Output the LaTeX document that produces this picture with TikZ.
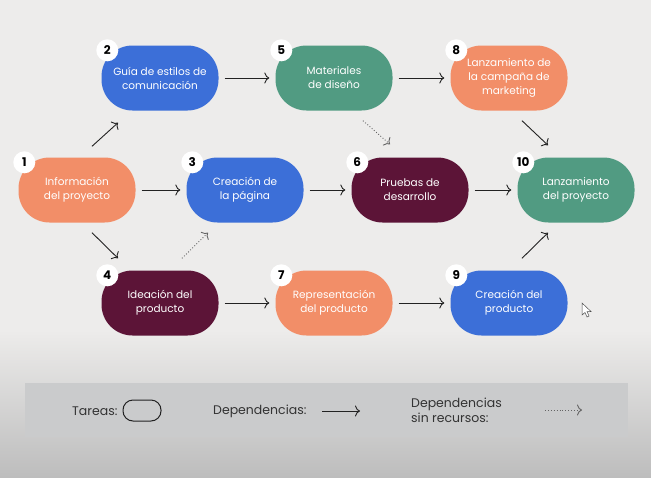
\documentclass[tikz,border=0pt]{standalone}
\usepackage{fontspec}
\setmainfont{Poppins}
\usetikzlibrary{arrows.meta,calc}
\definecolor{corange}{HTML}{F28E68}
\definecolor{cblue}{HTML}{3C6FD8}
\definecolor{cgreen}{HTML}{519B82}
\definecolor{cmaroon}{HTML}{5C1437}
\definecolor{bgtop}{HTML}{EDECEB}
\definecolor{bgbot}{HTML}{BDBDBD}
\definecolor{legbox}{HTML}{CACBCC}
\definecolor{ink}{HTML}{222222}
\definecolor{legink}{HTML}{333333}
\begin{document}
\begin{tikzpicture}[x=1pt,y=-1pt,
  task/.style={rectangle, rounded corners=31pt, minimum width=117pt, minimum height=65pt,
    text=white, align=center, inner sep=0pt, font=\fontsize{10.5}{14}\selectfont},
  badge/.style={circle, fill=white, minimum size=22pt, inner sep=0pt,
    font=\fontsize{12}{12}\selectfont\bfseries, text=black},
  tip/.tip={Computer Modern Rightarrow[length=5pt,width=11pt,line width=0.9pt]},
  dep/.style={draw=ink, line width=0.9pt, -tip},
  nores/.style={draw=ink!70, line width=0.9pt, dotted, -{Computer Modern Rightarrow[length=5pt,width=11pt,line width=0.9pt,sep=0pt]}},
  legtext/.style={text=legink, font=\fontsize{12.5}{15}\selectfont, align=left, inner sep=0pt},
  gap/.style={shorten <=6pt, shorten >=6pt}
]
\useasboundingbox (0,0) rectangle (651,477);
% background
\fill[bgtop] (0,0) rectangle (651,477);
\shade[top color=bgtop, bottom color=bgbot] (0,330) rectangle (651,477);
% legend box
\fill[legbox] (25,383) rectangle (628,437);

% tasks
\node[task, fill=corange] (n1) at (77,190) {Información\\del proyecto};
\node[task, fill=cblue] (n2) at (160,78) {Guía de estilos de\\comunicación};
\node[task, fill=cgreen] (n5) at (334,78) {Materiales\\de diseño};
\node[task, fill=corange] (n8) at (509,78) {Lanzamiento de\\la campaña de\\marketing};
\node[task, fill=cblue] (n3) at (245,190) {Creación de\\la página};
\node[task, fill=cmaroon] (n6) at (410,190) {Pruebas de\\desarrollo};
\node[task, fill=cgreen] (n10) at (576,190) {Lanzamiento\\del proyecto};
\node[task, fill=cmaroon] (n4) at (160,303) {Ideación del\\producto};
\node[task, fill=corange] (n7) at (334,303) {Representación\\del producto};
\node[task, fill=cblue] (n9) at (509,303) {Creación del\\producto};

% badges
\foreach \n/\t in {n1/1,n2/2,n3/3,n4/4,n5/5,n6/6,n7/7,n8/8,n9/9,n10/10}
  \node[badge] (b\t) at ($(\n.north west)+(6,5)$) {\t};

% dependencies
\draw[dep, gap] (n2) -- (n5);
\draw[dep, gap] (n5) -- (n8);
\draw[dep, gap] (n1) -- (n3);
\draw[dep, gap] (n3) -- (n6);
\draw[dep, gap] (n6) -- (n10);
\draw[dep, gap] (n4) -- (n7);
\draw[dep, gap] (n7) -- (n9);
\draw[dep] ($(n1.north)+(15,-11)$) -- ($(n2.south)+(-42,12)$);
\draw[dep] ($(n1.south)+(15,10)$) -- ($(n4.north)+(-42,-12)$);
\draw[dep] ($(n8.south)+(13,10)$) -- ($(n10.north)+(-28,-12)$);
\draw[dep] ($(n9.north)+(13,-12)$) -- ($(n10.south)+(-28,10)$);
\draw[nores] ($(n5.south)+(29,10)$) -- ($(n6.north)+(-20,-13)$);
\draw[nores] ($(n4.north)+(22,-12)$) -- ($(n3.south)+(-37,10)$);

% cursor
\draw[fill=white, draw=black!70, line width=0.5pt] (582,303) -- (582,315) -- (585,312.5) -- (587,317) -- (589,316) -- (587,311.5) -- (591,311.5) -- cycle;

% legend
\node[legtext, anchor=west] (lt) at (72,411) {Tareas:};
\node[draw=ink, line width=1pt, rounded corners=10pt, minimum width=38pt, minimum height=21pt, inner sep=0pt] (lshape) at (142,410.5) {};
\node[legtext, anchor=west] (ld) at (213,411) {Dependencias:};
\coordinate (la1) at (322,411);
\coordinate (la2) at (360,411);
\draw[dep] (la1) -- (la2);
\node[legtext, anchor=west] (ls) at (411,410) {Dependencias\\sin recursos:};
\coordinate (lb1) at (545,410);
\coordinate (lb2) at (582,410);
\draw[nores] (lb1) -- (lb2);
\end{tikzpicture}
\end{document}
